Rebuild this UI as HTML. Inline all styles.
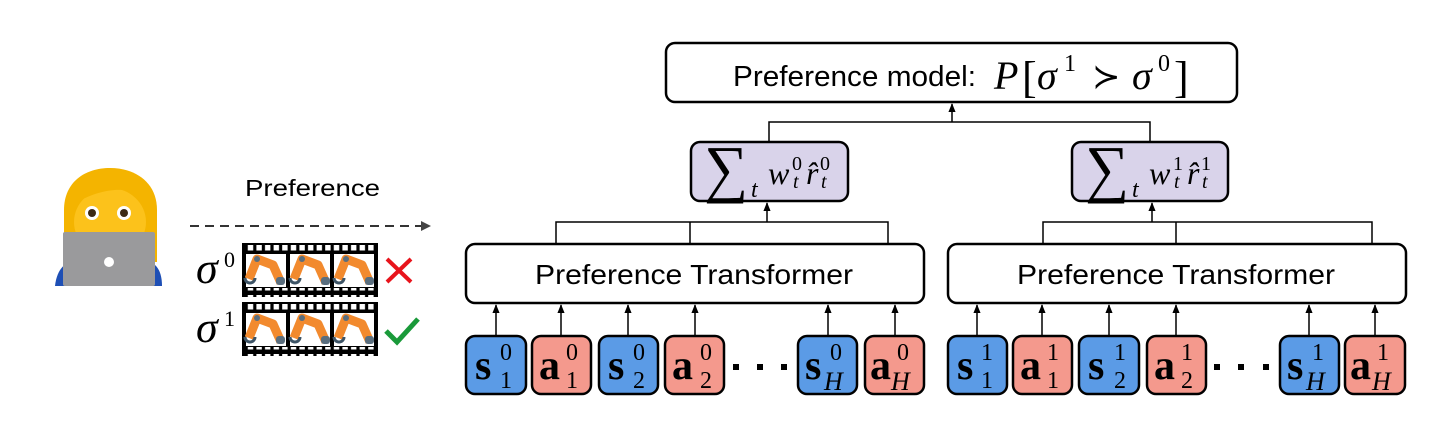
<!DOCTYPE html>
<html><head><meta charset="utf-8"><style>
html,body{margin:0;padding:0;background:#fff}
svg{display:block}
.sans{font-family:"Liberation Sans",Arial,sans-serif}
.serif{font-family:"Liberation Serif","Times New Roman",serif}
</style></head><body>
<svg width="1456" height="422" viewBox="0 0 1456 422" xmlns="http://www.w3.org/2000/svg">
<defs>
<pattern id="holes" x="245" y="0" width="8.6" height="10" patternUnits="userSpaceOnUse">
<rect x="0" y="0" width="8.6" height="10" fill="#000"/>
<rect x="1.6" y="2" width="5.4" height="5.5" fill="#fff"/>
</pattern>
<marker id="ah" viewBox="0 0 10 10" refX="9" refY="5" markerWidth="6" markerHeight="6" orient="auto"><path d="M0,1 L10,5 L0,9 z" fill="#000"/></marker>
<marker id="ahg" viewBox="0 0 10 10" refX="9" refY="5" markerWidth="5" markerHeight="5" orient="auto"><path d="M0,0 L10,5 L0,10 z" fill="#444"/></marker>
<g id="arm">
<path d="M6,28 L14,8 L30,14 L38,32" fill="none" stroke="#f28a2e" stroke-width="9" stroke-linejoin="round"/>
<circle cx="14" cy="8" r="3" fill="#5a6e7e"/>
<rect x="33" y="26" width="9" height="8" rx="3" fill="#5a6e7e"/>
<path d="M2,27 a5,5 0 1 0 10,0" fill="none" stroke="#3d5466" stroke-width="3"/>
</g>
<g id="strip">
<rect x="0" y="0" width="136" height="54" fill="#000"/>
<rect x="3" y="0" width="130" height="9" fill="url(#holes)"/>
<rect x="3" y="45" width="130" height="9" fill="url(#holes)"/>
<rect x="4" y="11" width="40" height="33" fill="#fff"/>
<rect x="48" y="11" width="40" height="33" fill="#fff"/>
<rect x="92" y="11" width="40" height="33" fill="#fff"/>
<use href="#arm" x="1" y="8"/>
<use href="#arm" x="46" y="8"/>
<use href="#arm" x="90" y="8"/>
</g>
</defs>

<!-- woman emoji -->
<path d="M64,262 L64,210 C64,182 85,168 110,168 C135,168 157,182 157,210 L157,262 Z" fill="#f4b400"/>
<ellipse cx="110" cy="222" rx="36" ry="34" fill="#fcc21b"/>
<path d="M72,205 C78,178 120,170 152,205 C140,188 110,182 72,205Z" fill="#f4b400"/>
<circle cx="92" cy="213" r="7" fill="#fff"/><circle cx="92" cy="213" r="4" fill="#3d2a14"/>
<circle cx="124" cy="213" r="7" fill="#fff"/><circle cx="124" cy="213" r="4" fill="#3d2a14"/>
<path d="M55,286 C57,268 66,262 75,260 L145,260 C154,262 162,268 162,286 Z" fill="#1e4fb5"/>
<rect x="63" y="232" width="92" height="54" rx="2" fill="#9a9a9c"/>
<circle cx="109" cy="262" r="5" fill="#fff"/>

<text x="245" y="196" class="sans" font-size="23" textLength="135" lengthAdjust="spacingAndGlyphs">Preference</text>
<line x1="190" y1="226" x2="430" y2="226" stroke="#333" stroke-width="2" stroke-dasharray="9,6" marker-end="url(#ahg)"/>

<text x="196" y="283" class="serif" font-style="italic" font-size="44">σ</text>
<text x="224" y="267" class="serif" font-size="22">0</text>
<text x="196" y="342" class="serif" font-style="italic" font-size="44">σ</text>
<text x="224" y="326" class="serif" font-size="22">1</text>
<use href="#strip" x="242" y="243"/>
<use href="#strip" x="242" y="302"/>
<path d="M387,259 L411,282 M411,259 L387,282" stroke="#e8141c" stroke-width="4"/>
<path d="M386,331 L397,342 L418,319" fill="none" stroke="#1a9a3a" stroke-width="5"/>

<!-- top model box -->
<rect x="666" y="43" width="571" height="59" rx="9" fill="#fff" stroke="#000" stroke-width="2.5"/>
<text x="733" y="86" class="sans" font-size="29" textLength="243" lengthAdjust="spacingAndGlyphs">Preference model:</text>
<text x="994" y="89" class="serif" font-size="40" font-style="italic">P</text>
<text x="1022" y="92" class="serif" font-size="44">[</text>
<text x="1037" y="89" class="serif" font-size="40" font-style="italic">σ</text>
<text x="1064" y="71" class="serif" font-size="24">1</text>
<text x="1092" y="88" class="serif" font-size="34">≻</text>
<text x="1132" y="89" class="serif" font-size="40" font-style="italic">σ</text>
<text x="1158" y="71" class="serif" font-size="24">0</text>
<text x="1174" y="92" class="serif" font-size="44">]</text>

<polyline points="769,142 769,122 1150,122 1150,142" fill="none" stroke="#000" stroke-width="1.5"/>
<line x1="952" y1="122" x2="952" y2="104" stroke="#000" stroke-width="1.5" marker-end="url(#ah)"/>

<!-- left branch -->
<rect x="691" y="142" width="157" height="59" rx="9" fill="#d9d3ea" stroke="#000" stroke-width="2.5"/>
<text x="704" y="190" class="serif" font-size="64" textLength="44" lengthAdjust="spacingAndGlyphs">∑</text>
<text x="751" y="197" class="serif" font-style="italic" font-size="24">t</text>
<text x="768" y="184" class="serif" font-style="italic" font-size="32">w</text>
<text x="792" y="170" class="serif" font-size="20">0</text>
<text x="793" y="188" class="serif" font-style="italic" font-size="20">t</text>
<text x="806" y="184" class="serif" font-style="italic" font-size="32">r̂</text>
<text x="820" y="170" class="serif" font-size="20">0</text>
<text x="821" y="188" class="serif" font-style="italic" font-size="20">t</text>
<polyline points="556,244 556,222 888,222 888,244" fill="none" stroke="#000" stroke-width="1.5"/>
<line x1="690" y1="222" x2="690" y2="244" stroke="#000" stroke-width="1.5"/>
<line x1="767" y1="222" x2="767" y2="203" stroke="#000" stroke-width="1.5" marker-end="url(#ah)"/>
<rect x="466" y="244" width="458" height="59" rx="9" fill="#fff" stroke="#000" stroke-width="2.5"/>
<text x="535" y="284" class="sans" font-size="28" textLength="318" lengthAdjust="spacingAndGlyphs">Preference Transformer</text>

<!-- right branch -->
<rect x="1072" y="142" width="156" height="59" rx="9" fill="#d9d3ea" stroke="#000" stroke-width="2.5"/>
<text x="1085" y="190" class="serif" font-size="64" textLength="44" lengthAdjust="spacingAndGlyphs">∑</text>
<text x="1132" y="197" class="serif" font-style="italic" font-size="24">t</text>
<text x="1149" y="184" class="serif" font-style="italic" font-size="32">w</text>
<text x="1173" y="170" class="serif" font-size="20">1</text>
<text x="1174" y="188" class="serif" font-style="italic" font-size="20">t</text>
<text x="1187" y="184" class="serif" font-style="italic" font-size="32">r̂</text>
<text x="1201" y="170" class="serif" font-size="20">1</text>
<text x="1202" y="188" class="serif" font-style="italic" font-size="20">t</text>
<polyline points="1043,244 1043,222 1372,222 1372,244" fill="none" stroke="#000" stroke-width="1.5"/>
<line x1="1176" y1="222" x2="1176" y2="244" stroke="#000" stroke-width="1.5"/>
<line x1="1152" y1="222" x2="1152" y2="203" stroke="#000" stroke-width="1.5" marker-end="url(#ah)"/>
<rect x="948" y="244" width="458" height="59" rx="9" fill="#fff" stroke="#000" stroke-width="2.5"/>
<text x="1017" y="284" class="sans" font-size="28" textLength="318" lengthAdjust="spacingAndGlyphs">Preference Transformer</text>

<g stroke="#000" stroke-width="1.5">
<line x1="496" y1="336" x2="496" y2="305" marker-end="url(#ah)"/>
<line x1="561" y1="336" x2="561" y2="305" marker-end="url(#ah)"/>
<line x1="628" y1="336" x2="628" y2="305" marker-end="url(#ah)"/>
<line x1="695" y1="336" x2="695" y2="305" marker-end="url(#ah)"/>
<line x1="828" y1="336" x2="828" y2="305" marker-end="url(#ah)"/>
<line x1="895" y1="336" x2="895" y2="305" marker-end="url(#ah)"/>
<line x1="977" y1="336" x2="977" y2="305" marker-end="url(#ah)"/>
<line x1="1042" y1="336" x2="1042" y2="305" marker-end="url(#ah)"/>
<line x1="1109" y1="336" x2="1109" y2="305" marker-end="url(#ah)"/>
<line x1="1176" y1="336" x2="1176" y2="305" marker-end="url(#ah)"/>
<line x1="1309" y1="336" x2="1309" y2="305" marker-end="url(#ah)"/>
<line x1="1375" y1="336" x2="1375" y2="305" marker-end="url(#ah)"/>
</g>
<g stroke="#000" stroke-width="2.5">
<rect x="466" y="336" width="60" height="58" rx="9" fill="#5b9be6"/>
<rect x="532" y="336" width="59" height="58" rx="9" fill="#f4998d"/>
<rect x="599" y="336" width="59" height="58" rx="9" fill="#5b9be6"/>
<rect x="665" y="336" width="59" height="58" rx="9" fill="#f4998d"/>
<rect x="798" y="336" width="59" height="58" rx="9" fill="#5b9be6"/>
<rect x="865" y="336" width="59" height="58" rx="9" fill="#f4998d"/>
<rect x="948" y="336" width="59" height="58" rx="9" fill="#5b9be6"/>
<rect x="1013" y="336" width="59" height="58" rx="9" fill="#f4998d"/>
<rect x="1079" y="336" width="60" height="58" rx="9" fill="#5b9be6"/>
<rect x="1147" y="336" width="59" height="58" rx="9" fill="#f4998d"/>
<rect x="1280" y="336" width="59" height="58" rx="9" fill="#5b9be6"/>
<rect x="1345" y="336" width="60" height="58" rx="9" fill="#f4998d"/>
</g>
<g class="serif" font-size="42" font-weight="bold">
<text x="475" y="379">s</text><text x="539" y="379">a</text><text x="608" y="379">s</text><text x="672" y="379">a</text><text x="805" y="379">s</text><text x="870" y="379">a</text>
<text x="957" y="379">s</text><text x="1020" y="379">a</text><text x="1088" y="379">s</text><text x="1154" y="379">a</text><text x="1287" y="379">s</text><text x="1350" y="379">a</text>
</g>
<g class="serif" font-size="24">
<text x="500" y="360">0</text><text x="566" y="360">0</text><text x="633" y="360">0</text><text x="700" y="360">0</text><text x="830" y="360">0</text><text x="897" y="360">0</text>
<text x="981" y="360">1</text><text x="1047" y="360">1</text><text x="1114" y="360">1</text><text x="1181" y="360">1</text><text x="1312" y="360">1</text><text x="1377" y="360">1</text>
<text x="500" y="388">1</text><text x="566" y="388">1</text><text x="633" y="388">2</text><text x="700" y="388">2</text>
<text x="981" y="388">1</text><text x="1047" y="388">1</text><text x="1114" y="388">2</text><text x="1181" y="388">2</text>
</g>
<g class="serif" font-size="26" font-style="italic">
<text x="824" y="390">H</text><text x="891" y="390">H</text><text x="1306" y="390">H</text><text x="1372" y="390">H</text>
</g>
<g fill="#000">
<rect x="733" y="364" width="6" height="6"/><rect x="757" y="364" width="6" height="6"/><rect x="781" y="364" width="6" height="6"/>
<rect x="1214" y="364" width="6" height="6"/><rect x="1238" y="364" width="6" height="6"/><rect x="1263" y="364" width="6" height="6"/>
</g>
</svg>
</body></html>
